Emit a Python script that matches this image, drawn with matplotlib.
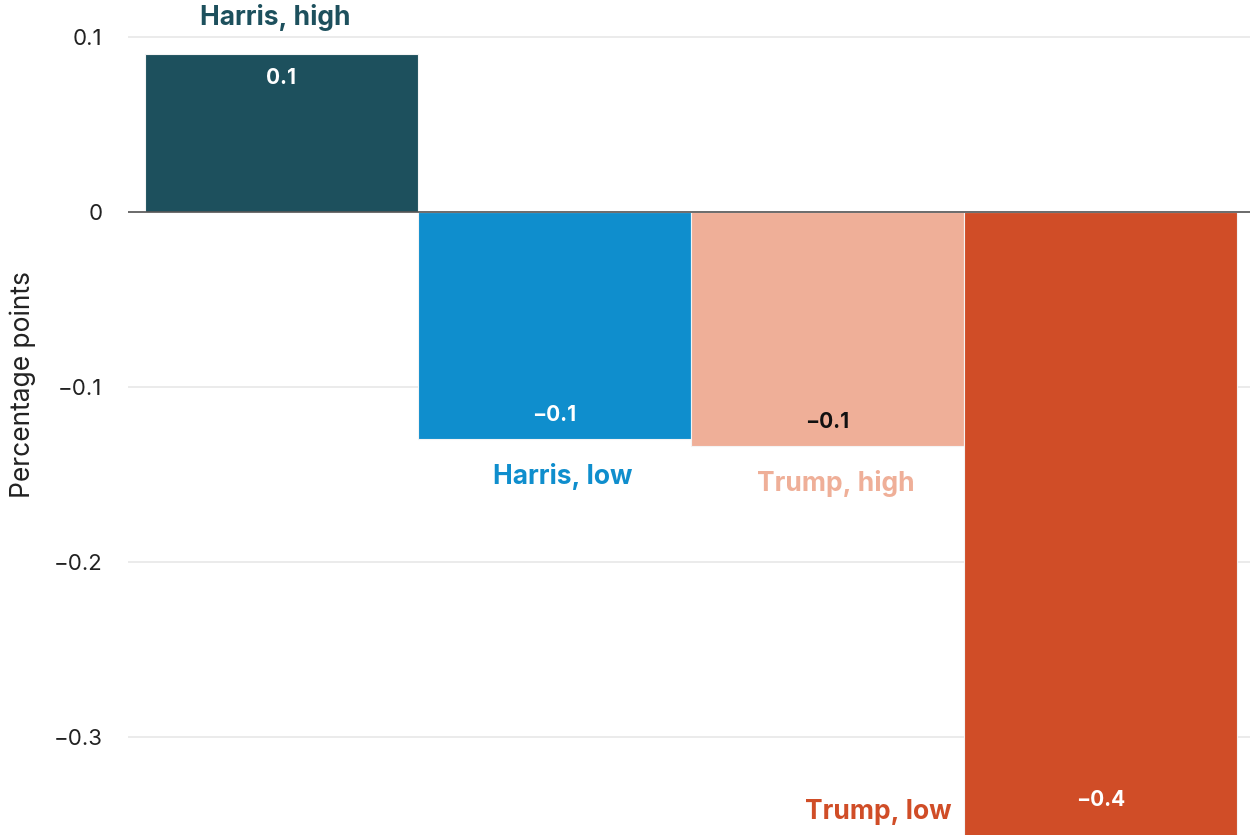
import matplotlib.pyplot as plt
import matplotlib.transforms as mtransforms

# Change by scenario (percentage points)
categories = ["Harris, high", "Harris, low", "Trump, high", "Trump, low"]
values = [0.09, -0.13, -0.134, -0.38]
value_labels = ["0.1", "\u22120.1", "\u22120.1", "\u22120.4"]
colors = ["#1D505D", "#0F8ECD", "#EFAF98", "#D04D27"]
value_colors = ["white", "white", "#111111", "white"]

plt.rcParams["font.family"] = ["Inter", "DejaVu Sans"]

fig = plt.figure(figsize=(12.5, 8.35), dpi=100)
ax = fig.add_axes([0.1024, 0.0, 0.8976, 1.0])

x = list(range(len(categories)))
ax.bar(x, values, width=1.0, color=colors, edgecolor="#f4f4f4", linewidth=0.8, zorder=2)

ax.set_xlim(-0.562, 3.548)
ax.set_ylim(-0.356, 0.121)
ax.set_yticks([0.1, 0, -0.1, -0.2, -0.3])
ax.set_yticklabels(["0.1", "0", "\u22120.1", "\u22120.2", "\u22120.3"])
ax.set_xticks([])
ax.tick_params(axis="y", length=0, pad=18.5, labelsize=16, labelcolor="#222222")
ax.grid(axis="y", color="#e8e8e8", linewidth=1.2, zorder=0)
ax.axhline(0, color="#555555", linewidth=1.2, zorder=3)
for s in ax.spines.values():
    s.set_visible(False)
ax.set_ylabel("Percentage points", fontsize=19, color="#222222")
ax.yaxis.set_label_coords(-0.082, 0.539)

# labels for the first three bars, offset from the bar ends
for i in range(3):
    v = values[i]
    sign = 1 if v > 0 else -1
    ax.annotate(value_labels[i], (x[i], v), xytext=(0, -sign * 24), textcoords="offset pixels",
                ha="center", va="center", fontsize=15, fontweight="bold", color=value_colors[i], zorder=4)
    ax.annotate(categories[i], (x[i], v), xytext=(8 if i else -6, sign * 37), textcoords="offset pixels",
                ha="center", va="center", fontsize=19, fontweight="bold", color=colors[i], zorder=4)

# last bar runs off the bottom of the chart
trans = mtransforms.blended_transform_factory(ax.transData, ax.transAxes)
ax.text(x[3], 0.042, value_labels[3], transform=trans, ha="center", va="center",
        fontsize=15, fontweight="bold", color=value_colors[3], zorder=4)
ax.text(x[3] - 0.545, 0.027, categories[3], transform=trans, ha="right", va="center",
        fontsize=19, fontweight="bold", color=colors[3], zorder=4)

fig.savefig("out.png", dpi=100)
